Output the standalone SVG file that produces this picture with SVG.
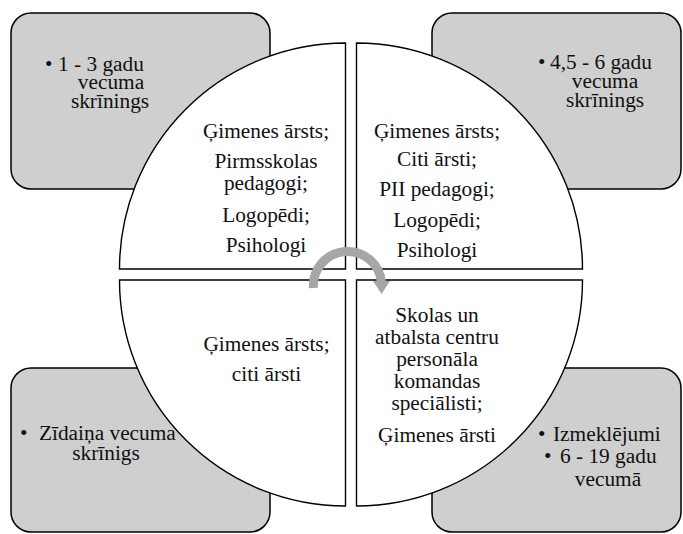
<svg xmlns="http://www.w3.org/2000/svg" width="683" height="534" viewBox="0 0 683 534">
<style>
.box{fill:#cfcfcf;stroke:#000;stroke-width:1.5}
.quad{fill:#fff;stroke:#000;stroke-width:1.4}
.c{text-anchor:middle}
</style>
<rect width="683" height="534" fill="#fff"/>
<g font-family="Liberation Serif, Tinos, DejaVu Serif, serif" font-size="21.33" fill="#111">
<g id="box-tl">
<rect class="box" x="11" y="13" width="259" height="176" rx="20"/>
<text x="45" y="71">•</text><text x="58" y="71">1 - 3 gadu</text>
<text class="c" x="111" y="89">vecuma</text>
<text class="c" x="110" y="107.5">skrīnings</text>
</g>
<g id="box-tr">
<rect class="box" x="432" y="13" width="249" height="176" rx="20"/>
<text x="538" y="69">•</text><text x="550" y="69">4,5 - 6 gadu</text>
<text class="c" x="605" y="88">vecuma</text>
<text class="c" x="605" y="107">skrīnings</text>
</g>
<g id="box-bl">
<rect class="box" x="11" y="368" width="259" height="164" rx="20"/>
<text x="20" y="440">•</text><text x="39" y="440">Zīdaiņa vecuma</text>
<text class="c" x="106" y="460">skrīnigs</text>
</g>
<g id="box-br">
<rect class="box" x="432" y="368" width="249" height="164" rx="20"/>
<text x="538" y="441">•</text><text x="553" y="441">Izmeklējumi</text>
<text x="544" y="463">•</text><text x="560" y="463">6 - 19 gadu</text>
<text class="c" x="608" y="486">vecumā</text>
</g>
<g id="quad-tl">
<path class="quad" d="M345.5,269 L119.5,269 A226,226 0 0 1 345.5,43 Z"/>
<text class="c" x="266" y="138">Ģimenes ārsts;</text>
<text class="c" x="266" y="168">Pirmsskolas</text>
<text class="c" x="266" y="189.5">pedagogi;</text>
<text class="c" x="266" y="221.5">Logopēdi;</text>
<text class="c" x="266" y="251.5">Psihologi</text>
</g>
<g id="quad-tr">
<path class="quad" d="M356.5,269 L356.5,43 A226,226 0 0 1 582.5,269 Z"/>
<text class="c" x="437" y="137.5">Ģimenes ārsts;</text>
<text class="c" x="437" y="166">Citi ārsti;</text>
<text class="c" x="437" y="196">PII pedagogi;</text>
<text class="c" x="437" y="226.5">Logopēdi;</text>
<text class="c" x="437" y="256.5">Psihologi</text>
</g>
<g id="quad-bl">
<path class="quad" d="M345.5,280 L345.5,506 A226,226 0 0 1 119.5,280 Z"/>
<text class="c" x="266.5" y="350.5">Ģimenes ārsts;</text>
<text class="c" x="266.5" y="380.5">citi ārsti</text>
</g>
<g id="quad-br">
<path class="quad" d="M356.5,280 L582.5,280 A226,226 0 0 1 356.5,506 Z"/>
<text class="c" x="437" y="321.5">Skolas un</text>
<text class="c" x="437" y="344">atbalsta centru</text>
<text class="c" x="437" y="366">personāla</text>
<text class="c" x="437" y="388">komandas</text>
<text class="c" x="437" y="410">speciālisti;</text>
<text class="c" x="437" y="442">Ģimenes ārsti</text>
</g>
</g>
<g id="connectors">
<path d="M313.5,288 A34,34 0 0 1 381.5,283" fill="none" stroke="#a6a6a6" stroke-width="9"/>
<polygon points="373,281 390,281 381.5,294" fill="#a6a6a6"/>
</g>
</svg>
